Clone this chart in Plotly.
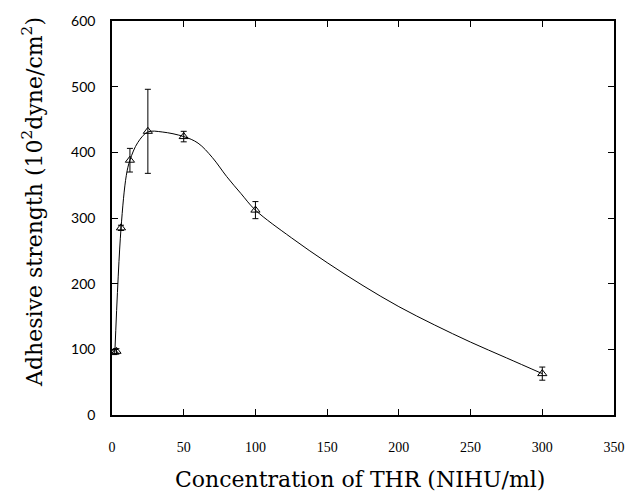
import plotly.graph_objects as go

# Measured data points (concentration, adhesive strength, error)
conc = [1.5625, 3.125, 6.25, 12.5, 25, 50, 100, 300]
strength = [96, 97, 285, 388, 432, 424, 312, 63]
err = [4, 4, 4, 18, 64, 8, 13, 10]

# Smooth fitted curve
fit_x = [2, 6.25, 10, 12.5, 18, 25, 35, 50, 60, 70, 80, 90, 100, 125, 150, 175, 200, 225, 250, 275, 300]
fit_y = [96, 283, 365, 388, 415, 431, 431, 424, 414, 392, 363, 337, 312, 270, 232, 197, 165, 137, 111, 87, 63]

x_ticks = [0, 50, 100, 150, 200, 250, 300, 350]
y_ticks = [0, 100, 200, 300, 400, 500, 600]

fig = go.Figure()
fig.add_trace(go.Scatter(
    x=fit_x, y=fit_y, mode="lines",
    line=dict(color="black", width=1, shape="spline", smoothing=1.0),
    hoverinfo="skip", showlegend=False))
fig.add_trace(go.Scatter(
    x=conc, y=strength, mode="markers",
    marker=dict(symbol="triangle-up-open", size=8, color="black", line=dict(width=1, color="black")),
    error_y=dict(type="data", array=err, visible=True, color="black", thickness=1, width=3),
    showlegend=False))

fig.update_layout(
    width=637, height=502,
    margin=dict(l=112, r=13, t=13, b=87),
    plot_bgcolor="white", paper_bgcolor="white",
    showlegend=False,
)
fig.update_xaxes(
    range=[0, 350], tickvals=x_ticks, ticktext=[str(v) for v in x_ticks],
    showgrid=False, zeroline=False, showline=True, linecolor="black", linewidth=1.5,
    mirror="ticks", ticks="inside", ticklen=6, tickcolor="black", tickwidth=1,
    tickfont=dict(family="Liberation Serif", size=14, color="black"),
    ticklabelstandoff=18,
)
fig.update_yaxes(
    range=[0, 600], tickvals=y_ticks, ticktext=[str(v) for v in y_ticks],
    showgrid=False, zeroline=False, showline=True, linecolor="black", linewidth=1.5,
    mirror="ticks", ticks="inside", ticklen=6, tickcolor="black", tickwidth=1,
    tickfont=dict(family="Lato", size=14, color="black"),
    ticklabelstandoff=12,
)
fig.add_annotation(
    text="Concentration of THR (NIHU/ml)", xref="paper", yref="paper",
    x=0.494, y=-0.164, yanchor="middle", showarrow=False,
    font=dict(family="DejaVu Serif", size=22, color="black"))
fig.add_annotation(
    text="Adhesive strength (10<sup>2</sup>dyne/cm<sup>2</sup>)", xref="paper", yref="paper",
    x=-0.158, y=0.54, textangle=-90, xanchor="center", yanchor="middle", showarrow=False,
    font=dict(family="DejaVu Serif", size=22, color="black"))

fig.write_html("out.html")
